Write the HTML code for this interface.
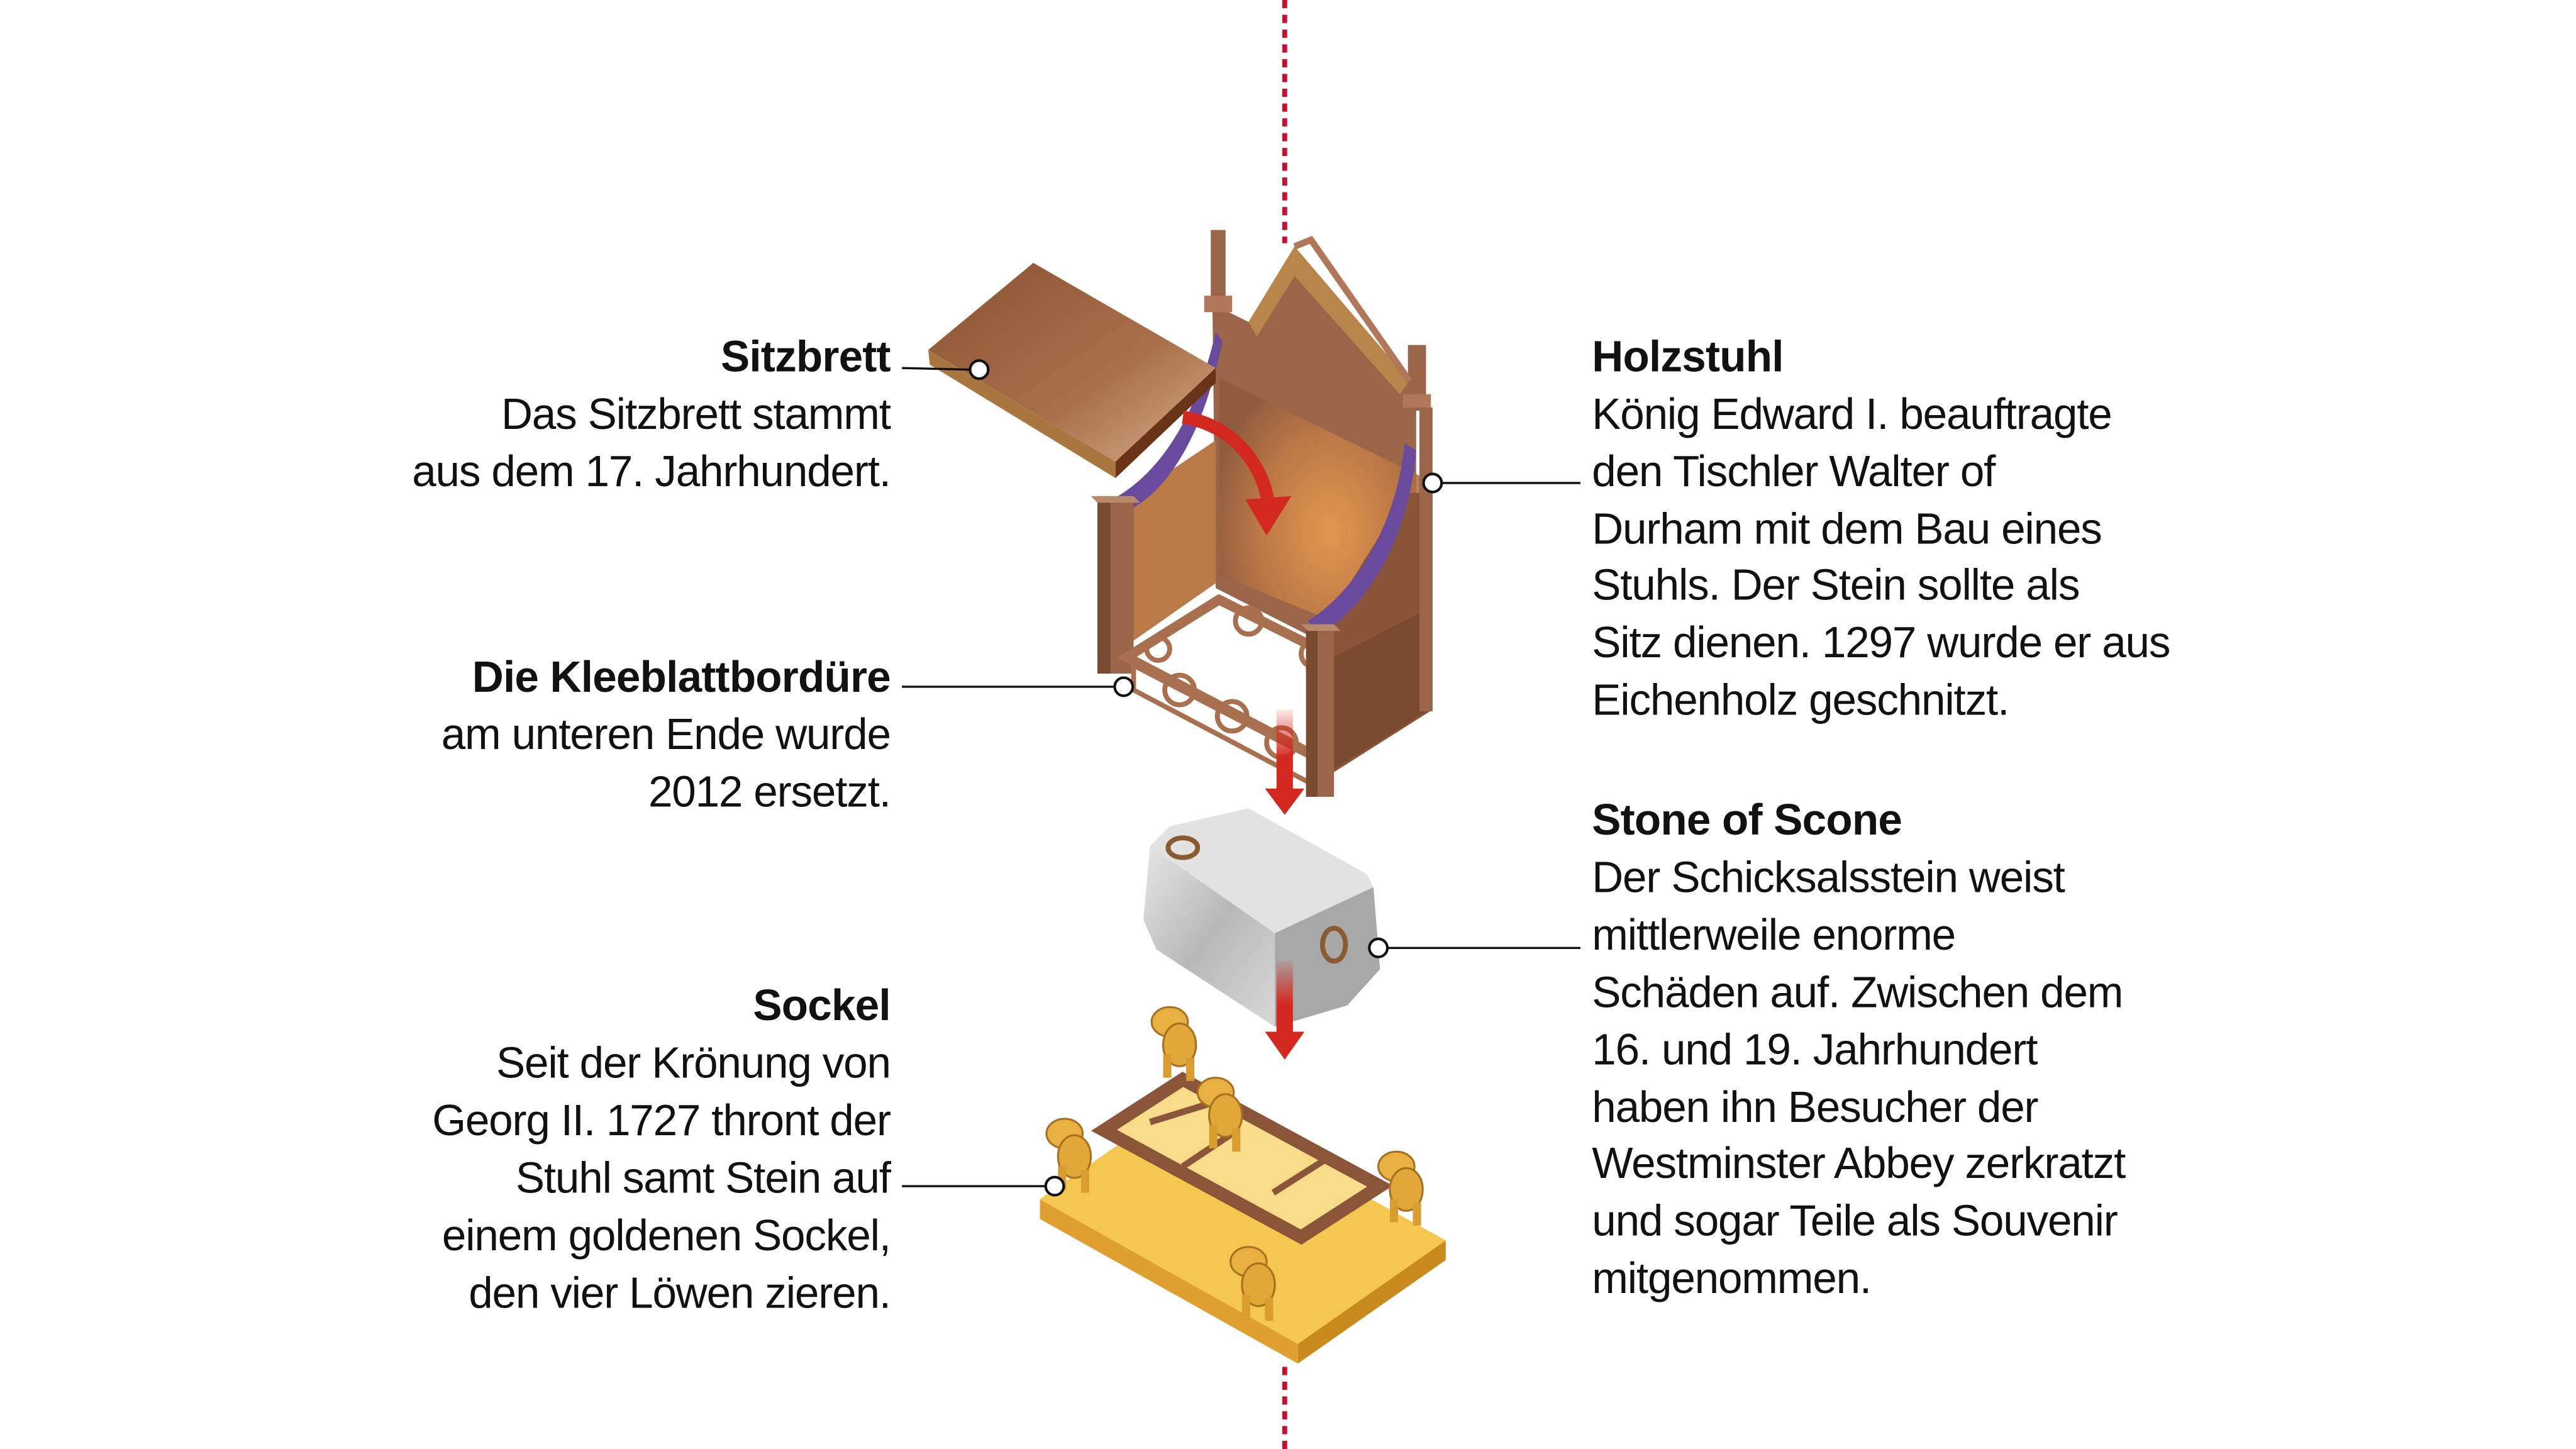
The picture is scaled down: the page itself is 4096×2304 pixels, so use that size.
<!DOCTYPE html>
<html><head><meta charset="utf-8">
<style>
html,body{margin:0;padding:0;background:#fff;}
svg{display:block;}
text{font-family:"Liberation Sans",sans-serif;font-size:26.5px;fill:#111;letter-spacing:-0.45px;}
.b{font-weight:bold;letter-spacing:-0.3px;}
</style></head>
<body>
<svg width="4096" height="2304" viewBox="0 0 1568 882" xmlns="http://www.w3.org/2000/svg">
<defs>
<radialGradient id="glow" cx="0.55" cy="0.55" r="0.6">
<stop offset="0" stop-color="#f0a050"/><stop offset="0.6" stop-color="#c07a45"/><stop offset="1" stop-color="#8e5a3c"/>
</radialGradient>
<linearGradient id="board" x1="0" y1="0" x2="1" y2="1">
<stop offset="0" stop-color="#8a5232"/><stop offset="0.6" stop-color="#a8704a"/><stop offset="1" stop-color="#d6b088"/>
</linearGradient>
<linearGradient id="stone" x1="0" y1="0" x2="1" y2="1">
<stop offset="0" stop-color="#e6e6e6"/><stop offset="0.5" stop-color="#b8b8b8"/><stop offset="1" stop-color="#d8d8d8"/>
</linearGradient>
<linearGradient id="fade" x1="0" y1="0" x2="0" y2="1">
<stop offset="0" stop-color="#d3281f" stop-opacity="0.1"/><stop offset="0.6" stop-color="#d3281f"/>
</linearGradient>
<g id="lion">
<ellipse cx="0" cy="0" rx="11" ry="9" fill="#e8b040" stroke="#a87020" stroke-width="1.2"/>
<ellipse cx="6" cy="14" rx="10" ry="13" fill="#e0a838" stroke="#a87020" stroke-width="1.2"/>
<rect x="-4" y="20" width="5" height="14" fill="#d89c30"/>
<rect x="10" y="22" width="5" height="14" fill="#d89c30"/>
</g>
</defs>

<line x1="782" y1="0" x2="782" y2="148" stroke="#c8102e" stroke-width="3" stroke-dasharray="5 4"/>
<line x1="782" y1="832" x2="782" y2="882" stroke="#c8102e" stroke-width="3" stroke-dasharray="5 4"/>

<!-- CHAIR -->
<polygon points="738,185 760,196 788,150 858,232 862,250 862,420 740,358" fill="#9a6548"/>
<polygon points="760,196 788,150 858,232 852,240 788,168 765,205" fill="#b8854a"/>
<polygon points="742,230 865,290 865,400 742,350" fill="url(#glow)" opacity="0.85"/>
<rect x="737" y="140" width="9" height="50" fill="#9a6548"/>
<rect x="733" y="180" width="17" height="10" fill="#b07858"/>
<rect x="857" y="210" width="11" height="40" fill="#9a6548"/>
<rect x="854" y="240" width="17" height="8" fill="#b07858"/>
<polyline points="788,150 798,146 858,232" fill="none" stroke="#b07858" stroke-width="4"/>
<polygon points="685,305 740,268 740,355 690,390" fill="#b97a48"/>
<path d="M675,305 C705,290 728,255 740,202 L744,208 C733,262 712,300 684,312 Z" fill="#6a4a9c"/>
<rect x="668" y="302" width="22" height="108" fill="#9a6548"/>
<rect x="668" y="302" width="8" height="108" fill="#7a4a30"/>
<polygon points="664,302 690,302 694,306 668,306" fill="#b98a6a"/>
<g fill="none" stroke="#a8704f" stroke-width="6">
<polygon points="686,400 742,365 862,425 804,462"/>
</g>
<g fill="none" stroke="#a8704f" stroke-width="3">
<path d="M690,405 L800,462 L800,478 L690,420 Z"/>
<circle cx="718" cy="420" r="9"/><circle cx="750" cy="436" r="9"/><circle cx="780" cy="452" r="9"/>
<circle cx="760" cy="378" r="8"/><circle cx="800" cy="398" r="8"/><circle cx="836" cy="415" r="8"/>
<circle cx="705" cy="395" r="7"/>
</g>
<polygon points="805,382 856,300 872,300 872,432 812,470 805,470" fill="#8a5438"/>
<polygon points="812,400 870,370 870,432 812,468" fill="#7a4a30"/>
<path d="M796,378 C825,360 850,320 855,270 L862,274 C858,325 834,368 804,386 Z" fill="#6a4a9c"/>
<rect x="864" y="248" width="8" height="185" fill="#9a6548"/>
<rect x="795" y="380" width="17" height="105" fill="#9a6548"/>
<rect x="795" y="380" width="7" height="105" fill="#7a4a30"/>
<polygon points="792,380 812,380 816,384 796,384" fill="#b98a6a"/>

<polygon points="565,213 629,160 740,224 679,281" fill="url(#board)"/>
<polygon points="565,213 679,281 679,291 566,222" fill="#a8763e"/>
<polygon points="679,281 740,224 740,233 679,291" fill="#6a3418"/>

<path d="M720,254 C748,258 768,280 772,306" fill="none" stroke="#d3281f" stroke-width="8"/>
<polygon points="758,304 786,302 771,326" fill="#d3281f"/>

<rect x="777" y="432" width="10" height="50" fill="url(#fade)"/>
<polygon points="770,480 794,480 782,496" fill="#d3281f"/>

<!-- STONE -->
<polygon points="700,515 712,503 760,492 832,532 836,540 776,568" fill="#e2e2e2"/>
<polygon points="700,515 776,568 776,625 704,578 696,560" fill="url(#stone)"/>
<polygon points="776,568 836,540 840,590 820,612 776,625" fill="#a8a8a8"/>
<ellipse cx="720" cy="516" rx="9" ry="6" fill="none" stroke="#8a5a30" stroke-width="3"/>
<ellipse cx="812" cy="575" rx="7" ry="10" fill="none" stroke="#8a5a30" stroke-width="3"/>

<rect x="777" y="585" width="10" height="45" fill="url(#fade)"/>
<polygon points="770,628 794,628 782,645" fill="#d3281f"/>

<!-- SOCKEL -->
<polygon points="633,730 790,818 790,830 633,742" fill="#e0a030"/>
<polygon points="790,818 880,755 880,767 790,830" fill="#c98a20"/>
<polygon points="633,730 722,668 880,755 790,818" fill="#f5c650"/>
<polygon points="672,688 720,657 840,722 792,753" fill="#f8dc8a" stroke="#8a5538" stroke-width="8"/>
<line x1="700" y1="683" x2="742" y2="670" stroke="#8a5538" stroke-width="4"/>
<line x1="750" y1="690" x2="720" y2="710" stroke="#8a5538" stroke-width="4"/>
<line x1="808" y1="705" x2="775" y2="726" stroke="#8a5538" stroke-width="4"/>
<use href="#lion" x="712" y="622"/>
<use href="#lion" x="648" y="690"/>
<use href="#lion" x="850" y="710"/>
<use href="#lion" x="760" y="768"/>
<use href="#lion" x="740" y="665" transform="translate(0,0)"/>

<g stroke="#111" stroke-width="1.3" fill="none">
<line x1="549" y1="224" x2="590" y2="225"/>
<line x1="549" y1="418" x2="678" y2="418"/>
<line x1="549" y1="722" x2="636" y2="722"/>
<line x1="878" y1="294" x2="962" y2="294"/>
<line x1="845" y1="577" x2="962" y2="577"/>
</g>
<g stroke="#111" stroke-width="1.6" fill="#fff">
<circle cx="596" cy="225" r="5.5"/>
<circle cx="684" cy="418" r="5.5"/>
<circle cx="642" cy="722" r="5.5"/>
<circle cx="872" cy="294" r="5.5"/>
<circle cx="839" cy="577" r="5.5"/>
</g>

<g text-anchor="end">
<text x="542" y="226" class="b">Sitzbrett</text>
<text x="542" y="261">Das Sitzbrett stammt</text>
<text x="542" y="296">aus dem 17. Jahrhundert.</text>
<text x="542" y="421" class="b">Die Kleeblattbordüre</text>
<text x="542" y="456">am unteren Ende wurde</text>
<text x="542" y="491">2012 ersetzt.</text>
<text x="542" y="621" class="b">Sockel</text>
<text x="542" y="656">Seit der Krönung von</text>
<text x="542" y="691">Georg II. 1727 thront der</text>
<text x="542" y="726">Stuhl samt Stein auf</text>
<text x="542" y="761">einem goldenen Sockel,</text>
<text x="542" y="796">den vier Löwen zieren.</text>
</g>
<g>
<text x="969" y="226" class="b">Holzstuhl</text>
<text x="969" y="261">König Edward I. beauftragte</text>
<text x="969" y="296">den Tischler Walter of</text>
<text x="969" y="331">Durham mit dem Bau eines</text>
<text x="969" y="365">Stuhls. Der Stein sollte als</text>
<text x="969" y="400">Sitz dienen. 1297 wurde er aus</text>
<text x="969" y="435">Eichenholz geschnitzt.</text>
<text x="969" y="508" class="b">Stone of Scone</text>
<text x="969" y="543">Der Schicksalsstein weist</text>
<text x="969" y="578">mittlerweile enorme</text>
<text x="969" y="613">Schäden auf. Zwischen dem</text>
<text x="969" y="648">16. und 19. Jahrhundert</text>
<text x="969" y="683">haben ihn Besucher der</text>
<text x="969" y="717">Westminster Abbey zerkratzt</text>
<text x="969" y="752">und sogar Teile als Souvenir</text>
<text x="969" y="787">mitgenommen.</text>
</g>
</svg>
</body></html>
